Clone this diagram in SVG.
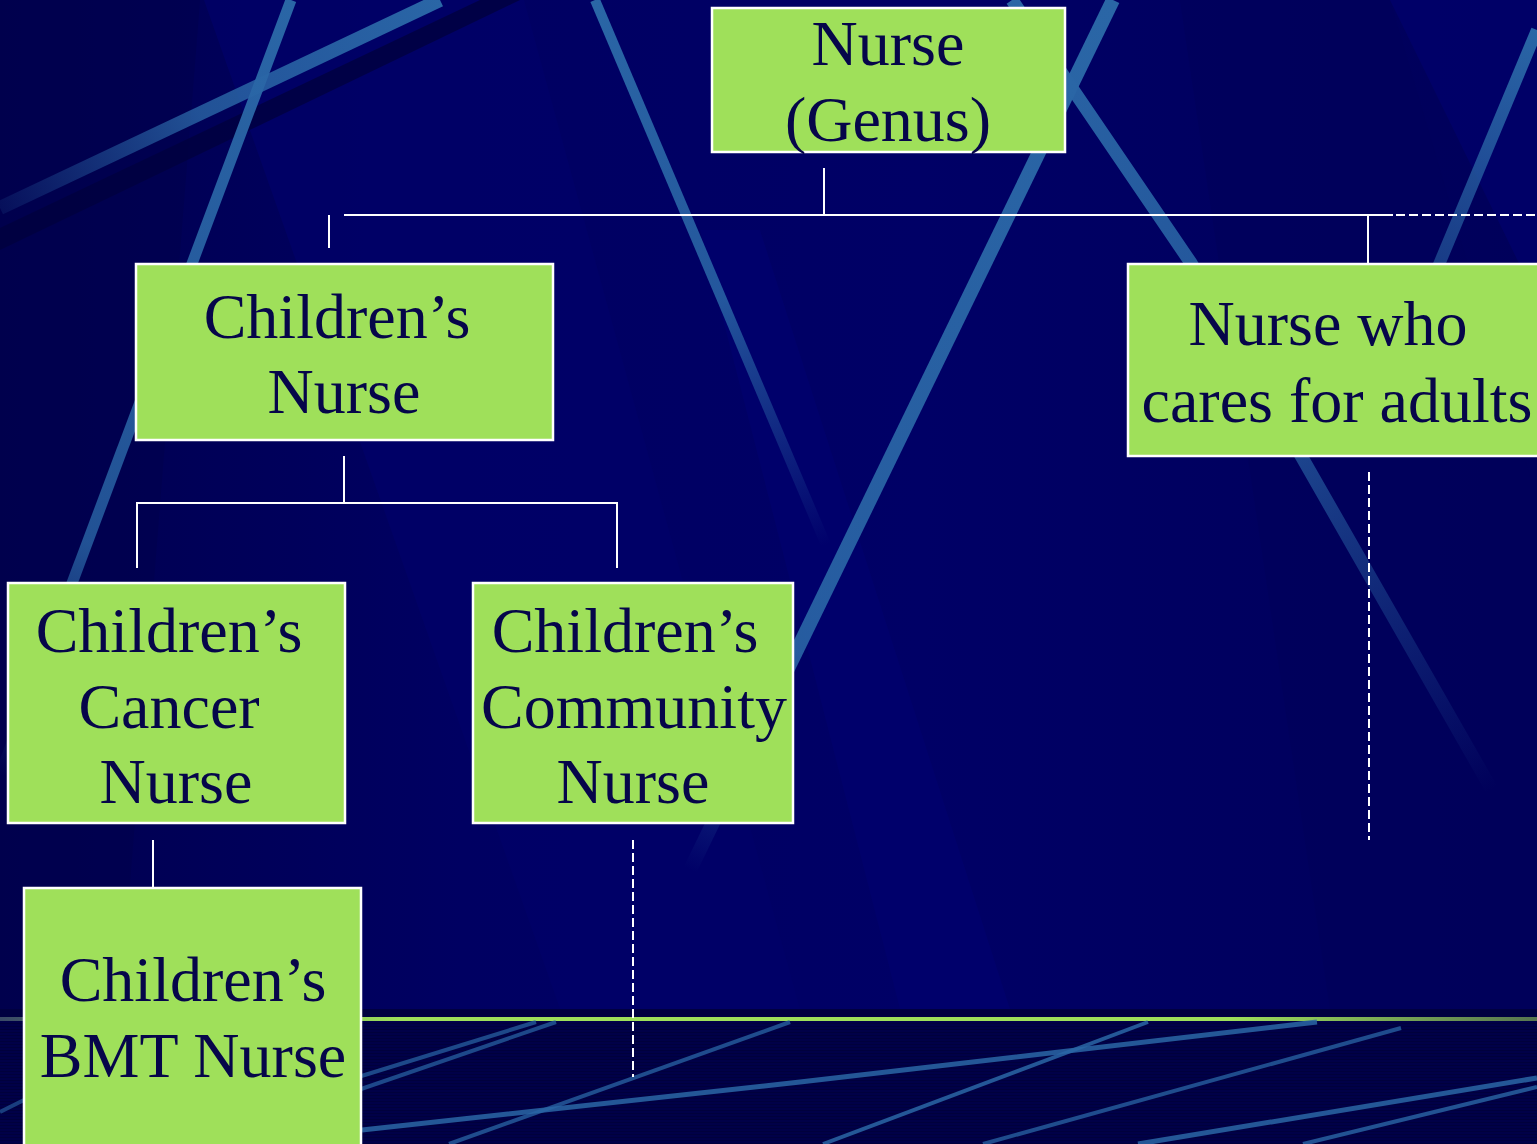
<svg xmlns="http://www.w3.org/2000/svg" width="1537" height="1144" viewBox="0 0 1537 1144">
  <style>
    .box { fill: #9fe05a; stroke: #ffffff; stroke-width: 2.5; }
    .lbl { font-family: "Liberation Serif", "Times New Roman", serif; font-size: 64px; fill: #06064a; text-anchor: middle; }
    .conn { stroke: #ffffff; stroke-width: 2; fill: none; }
    .dash { stroke-dasharray: 9 4; }
  </style>
  <defs>
    <linearGradient id="bg" x1="0" y1="0" x2="1" y2="0">
      <stop offset="0" stop-color="#00004f"/>
      <stop offset="0.3" stop-color="#000062"/>
      <stop offset="0.6" stop-color="#000066"/>
      <stop offset="1" stop-color="#00005a"/>
    </linearGradient>
    <linearGradient id="s1" gradientUnits="userSpaceOnUse" x1="291" y1="0" x2="0" y2="775">
      <stop offset="0" stop-color="#2a66a6"/>
      <stop offset="0.7" stop-color="#2a66a6" stop-opacity="0.8"/>
      <stop offset="1" stop-color="#2a66a6" stop-opacity="0"/>
    </linearGradient>
    <linearGradient id="s2" gradientUnits="userSpaceOnUse" x1="440" y1="0" x2="0" y2="208">
      <stop offset="0" stop-color="#2a66a6"/>
      <stop offset="0.55" stop-color="#2a66a6" stop-opacity="0.8"/>
      <stop offset="1" stop-color="#2a66a6" stop-opacity="0.15"/>
    </linearGradient>
    <linearGradient id="s3" gradientUnits="userSpaceOnUse" x1="595" y1="0" x2="826" y2="545">
      <stop offset="0" stop-color="#2a66a6"/>
      <stop offset="0.55" stop-color="#2a66a6" stop-opacity="0.85"/>
      <stop offset="1" stop-color="#2a66a6" stop-opacity="0"/>
    </linearGradient>
    <linearGradient id="s4" gradientUnits="userSpaceOnUse" x1="1113" y1="0" x2="690" y2="870">
      <stop offset="0" stop-color="#2a66a6"/>
      <stop offset="0.75" stop-color="#2a66a6" stop-opacity="0.9"/>
      <stop offset="1" stop-color="#2a66a6" stop-opacity="0"/>
    </linearGradient>
    <linearGradient id="s5" gradientUnits="userSpaceOnUse" x1="1012" y1="0" x2="1492" y2="790">
      <stop offset="0" stop-color="#2a66a6"/>
      <stop offset="0.5" stop-color="#2a66a6" stop-opacity="0.8"/>
      <stop offset="1" stop-color="#2a66a6" stop-opacity="0"/>
    </linearGradient>
    <linearGradient id="s6" gradientUnits="userSpaceOnUse" x1="1537" y1="30" x2="1420" y2="310">
      <stop offset="0" stop-color="#2a66a6"/>
      <stop offset="1" stop-color="#2a66a6" stop-opacity="0.5"/>
    </linearGradient>
    <linearGradient id="green" gradientUnits="userSpaceOnUse" x1="0" y1="0" x2="1537" y2="0">
      <stop offset="0" stop-color="#3a4a66"/>
      <stop offset="0.26" stop-color="#9ee05a"/>
      <stop offset="0.8" stop-color="#9ee05a"/>
      <stop offset="1" stop-color="#587650"/>
    </linearGradient>
    <pattern id="scan" width="4" height="3" patternUnits="userSpaceOnUse">
      <rect width="4" height="3" fill="#000048"/>
      <rect width="4" height="1" fill="#00003c"/>
    </pattern>
  </defs>

  <!-- background -->
  <rect width="1537" height="1144" fill="url(#bg)"/>
  <polygon points="204,0 524,0 800,1009 560,1009" fill="#000068" opacity="0.8"/>
  <polygon points="700,230 760,230 1010,1009 900,1009" fill="#00006e" opacity="0.7"/>
  <polygon points="1180,0 1390,0 1537,500 1537,1009 1330,1009" fill="#00005a" opacity="0.6"/>
  <polygon points="1390,0 1537,0 1537,300" fill="#000070" opacity="0.6"/>
  <polygon points="0,0 200,0 120,1009 0,1009" fill="#00004c" opacity="0.6"/>
  <polygon points="480,0 520,0 0,250 0,228" fill="#00003e" opacity="0.8"/>

  <!-- streaks -->
  <line x1="291" y1="0" x2="0" y2="775" stroke="url(#s1)" stroke-width="11"/>
  <line x1="440" y1="0" x2="0" y2="208" stroke="url(#s2)" stroke-width="14"/>
  <line x1="595" y1="0" x2="826" y2="545" stroke="url(#s3)" stroke-width="10"/>
  <line x1="1113" y1="0" x2="690" y2="870" stroke="url(#s4)" stroke-width="14"/>
  <polyline points="1012,0 1191,263 1492,790" fill="none" stroke="url(#s5)" stroke-width="13"/>
  <line x1="1537" y1="30" x2="1420" y2="310" stroke="url(#s6)" stroke-width="12"/>

  <!-- bottom band -->
  <rect x="0" y="1009" width="1537" height="135" fill="url(#scan)"/>
  <rect x="0" y="1009" width="1537" height="8" fill="#000040"/>
  <rect x="0" y="1017" width="1537" height="4" fill="url(#green)"/>
  <g stroke="#2a66a6" fill="none">
    <line x1="536" y1="1022" x2="300" y2="1095" stroke-width="4" opacity="0.7"/>
    <line x1="556" y1="1022" x2="300" y2="1110" stroke-width="4" opacity="0.7"/>
    <line x1="40" y1="1092" x2="0" y2="1112" stroke-width="4" opacity="0.6"/>
    <line x1="790" y1="1022" x2="449" y2="1144" stroke-width="4" opacity="0.75"/>
    <line x1="1148" y1="1022" x2="823" y2="1144" stroke-width="4" opacity="0.85"/>
    <polyline points="362,1130 800,1082 1317,1022" stroke-width="5" opacity="0.85"/>
    <line x1="1401" y1="1028" x2="983" y2="1144" stroke-width="4" opacity="0.75"/>
    <line x1="1537" y1="1078" x2="1138" y2="1144" stroke-width="5" opacity="0.85"/>
    <line x1="1537" y1="1087" x2="1303" y2="1144" stroke-width="4" opacity="0.8"/>
  </g>

  <!-- connectors -->
  <g id="connectors">
    <line class="conn" x1="824" y1="168" x2="824" y2="215"/>
    <line class="conn" x1="344" y1="215" x2="1393" y2="215"/>
    <line class="conn dash" x1="1396" y1="215" x2="1537" y2="215"/>
    <line class="conn" x1="329" y1="215" x2="329" y2="248"/>
    <line class="conn" x1="1368" y1="215" x2="1368" y2="264"/>
    <line class="conn" x1="344" y1="456" x2="344" y2="503"/>
    <polyline class="conn" points="137,568 137,503 617,503 617,568"/>
    <line class="conn" x1="153" y1="840" x2="153" y2="888"/>
    <line class="conn dash" x1="633" y1="840" x2="633" y2="1077"/>
    <line class="conn dash" x1="1369" y1="472" x2="1369" y2="840"/>
  </g>

  <!-- nodes -->
  <g id="nurse-genus">
    <rect class="box" x="712" y="8" width="353" height="144"/>
    <text class="lbl" x="888" y="65">Nurse</text>
    <text class="lbl" x="888" y="141">(Genus)</text>
  </g>
  <g id="childrens-nurse">
    <rect class="box" x="136" y="264" width="417" height="176"/>
    <text class="lbl" x="337" y="338">Children’s</text>
    <text class="lbl" x="344" y="413">Nurse</text>
  </g>
  <g id="nurse-adults">
    <rect class="box" x="1128" y="264" width="420" height="192"/>
    <text class="lbl" x="1328" y="345">Nurse who</text>
    <text class="lbl" x="1337" y="422">cares for adults</text>
  </g>
  <g id="childrens-cancer-nurse">
    <rect class="box" x="8" y="583" width="337" height="240"/>
    <text class="lbl" x="169" y="652">Children’s</text>
    <text class="lbl" x="169" y="728">Cancer</text>
    <text class="lbl" x="176" y="803">Nurse</text>
  </g>
  <g id="childrens-community-nurse">
    <rect class="box" x="473" y="583" width="320" height="240"/>
    <text class="lbl" x="625" y="652">Children’s</text>
    <text class="lbl" x="634" y="728">Community</text>
    <text class="lbl" x="633" y="803">Nurse</text>
  </g>
  <g id="childrens-bmt-nurse">
    <rect class="box" x="24" y="888" width="337" height="270"/>
    <text class="lbl" x="193" y="1001">Children’s</text>
    <text class="lbl" x="193" y="1077">BMT Nurse</text>
  </g>
</svg>
